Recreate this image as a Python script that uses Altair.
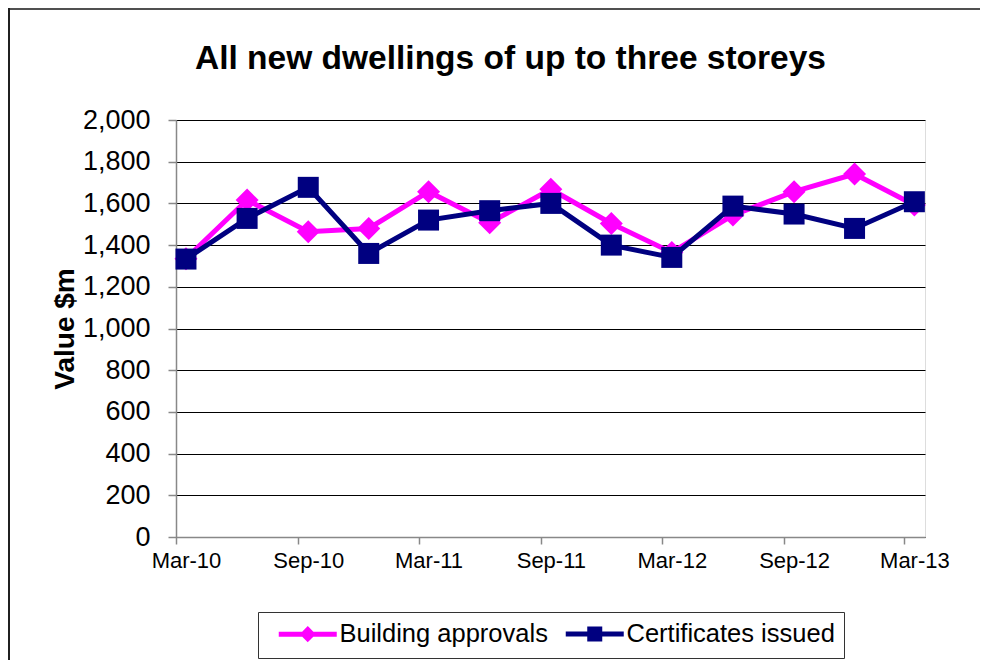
import altair as alt
import pandas as pd

# ---- data ----
quarters = ["2010-03", "2010-06", "2010-09", "2010-12", "2011-03", "2011-06", "2011-09",
            "2011-12", "2012-03", "2012-06", "2012-09", "2012-12", "2013-03"]
approvals = [1335, 1616, 1464, 1480, 1656, 1507, 1668, 1504, 1365, 1544, 1656, 1741, 1592]
certificates = [1333, 1528, 1677, 1360, 1520, 1565, 1600, 1400, 1341, 1587, 1549, 1480, 1608]
series_names = ["Building approvals", "Certificates issued"]
series_colors = ["#FF00FF", "#000080"]
series_shapes = ["diamond", "square"]
tick_months = [(2010, 3), (2010, 9), (2011, 3), (2011, 9), (2012, 3), (2012, 9), (2013, 3)]
y_ticks = list(range(0, 2001, 200))
chart_title = "All new dwellings of up to three storeys"
y_title = "Value $m"

FONT = "Liberation Sans"

rows = []
for q, a, c in zip(quarters, approvals, certificates):
    rows.append({"date": q + "-16", "series": series_names[0], "value": a})
    rows.append({"date": q + "-16", "series": series_names[1], "value": c})
df = pd.DataFrame(rows)

color_scale = alt.Scale(domain=series_names, range=series_colors)

# legend symbols (stroked): a line segment with the series marker in the middle
line_path = "M-0.1,0H5.7"
diamond_path = line_path + "M2.8,-0.45L3.25,0L2.8,0.45L2.35,0Z"
square_path = line_path + "M2.3,-0.5H3.3V0.5H2.3Z"
symbol_expr = f"datum.value == '{series_names[0]}' ? '{diamond_path}' : '{square_path}'"

legend = alt.Legend(
    title=None,
    orient="none",
    legendX=82,
    legendY=492,
    direction="horizontal",
    symbolType=alt.ExprRef(expr=symbol_expr),
    symbolSize=400,
    symbolStrokeWidth=5,
    labelOffset=47,
    labelFontSize=25.5,
    labelFont=FONT,
    labelColor="black",
    labelLimit=400,
    columnPadding=6,
    padding=9,
    strokeColor="#333333",
    fillColor="white",
)

x_enc = alt.X(
    "date:T",
    scale=alt.Scale(
        type="utc",
        domain=[alt.DateTime(year=2010, month=3, date=1, utc=True),
                alt.DateTime(year=2013, month=4, date=1, utc=True)],
    ),
    axis=alt.Axis(
        values=[alt.DateTime(year=y, month=m, date=1, utc=True) for y, m in tick_months],
        format="%b-%y",
        labelFontSize=22,
        labelOffset=10,
        labelPadding=6,
        tickSize=7,
        tickWidth=1.5,
        grid=False,
        domainWidth=1.5,
        labelFlush=False,
        labelOverlap=False,
        title=None,
    ),
)
y_enc = alt.Y(
    "value:Q",
    scale=alt.Scale(domain=[0, 2000], nice=False),
    axis=alt.Axis(
        values=y_ticks,
        format=",.0f",
        labelFontSize=27,
        labelPadding=18,
        tickSize=8,
        tickWidth=1.5,
        grid=True,
        gridColor="black",
        gridWidth=1,
        domainWidth=1.5,
        title=y_title,
        titleFontSize=28,
        titleFontWeight="bold",
        titlePadding=3,
    ),
)

base = alt.Chart(df).encode(x=x_enc, y=y_enc)

# chart-area frame (top and left edges only are visible in the reference)
frame_src = alt.Chart(pd.DataFrame({"k": [0]}))
frame_top = frame_src.mark_rect(fill="#505050", clip=False).encode(
    x=alt.value(-168), x2=alt.value(1200), y=alt.value(-112), y2=alt.value(-110)
)
frame_left = frame_src.mark_rect(fill="#202020", clip=False).encode(
    x=alt.value(-168), x2=alt.value(-166), y=alt.value(-112), y2=alt.value(800)
)

layers = [frame_top, frame_left]
marker_sizes = [529, 441]
for i, name in enumerate(series_names):
    sub = base.transform_filter(alt.datum.series == name)
    layers.append(
        sub.mark_line(strokeWidth=5).encode(
            color=alt.Color("series:N", scale=color_scale, legend=legend)
        )
    )
    layers.append(
        sub.mark_point(filled=True, opacity=1, size=marker_sizes[i],
                       shape=series_shapes[i], color=series_colors[i])
    )

chart = alt.layer(*layers).properties(
    width=749,
    height=417,
    padding={"left": 168, "top": 112, "right": 55, "bottom": 123},
    autosize=alt.AutoSizeParams(type="none"),
    title=alt.TitleParams(
        text=chart_title,
        fontSize=33.5,
        font=FONT,
        fontWeight="bold",
        anchor="middle",
        dx=-40,
        offset=-68,
        color="black",
    ),
).configure_view(strokeWidth=0).configure_axis(
    labelFont=FONT,
    titleFont=FONT,
    labelColor="black",
    titleColor="black",
    domainColor="black",
    tickColor="black",
).configure(background="white")

chart.save("out.html", embed_options={"renderer": "svg", "actions": False})
